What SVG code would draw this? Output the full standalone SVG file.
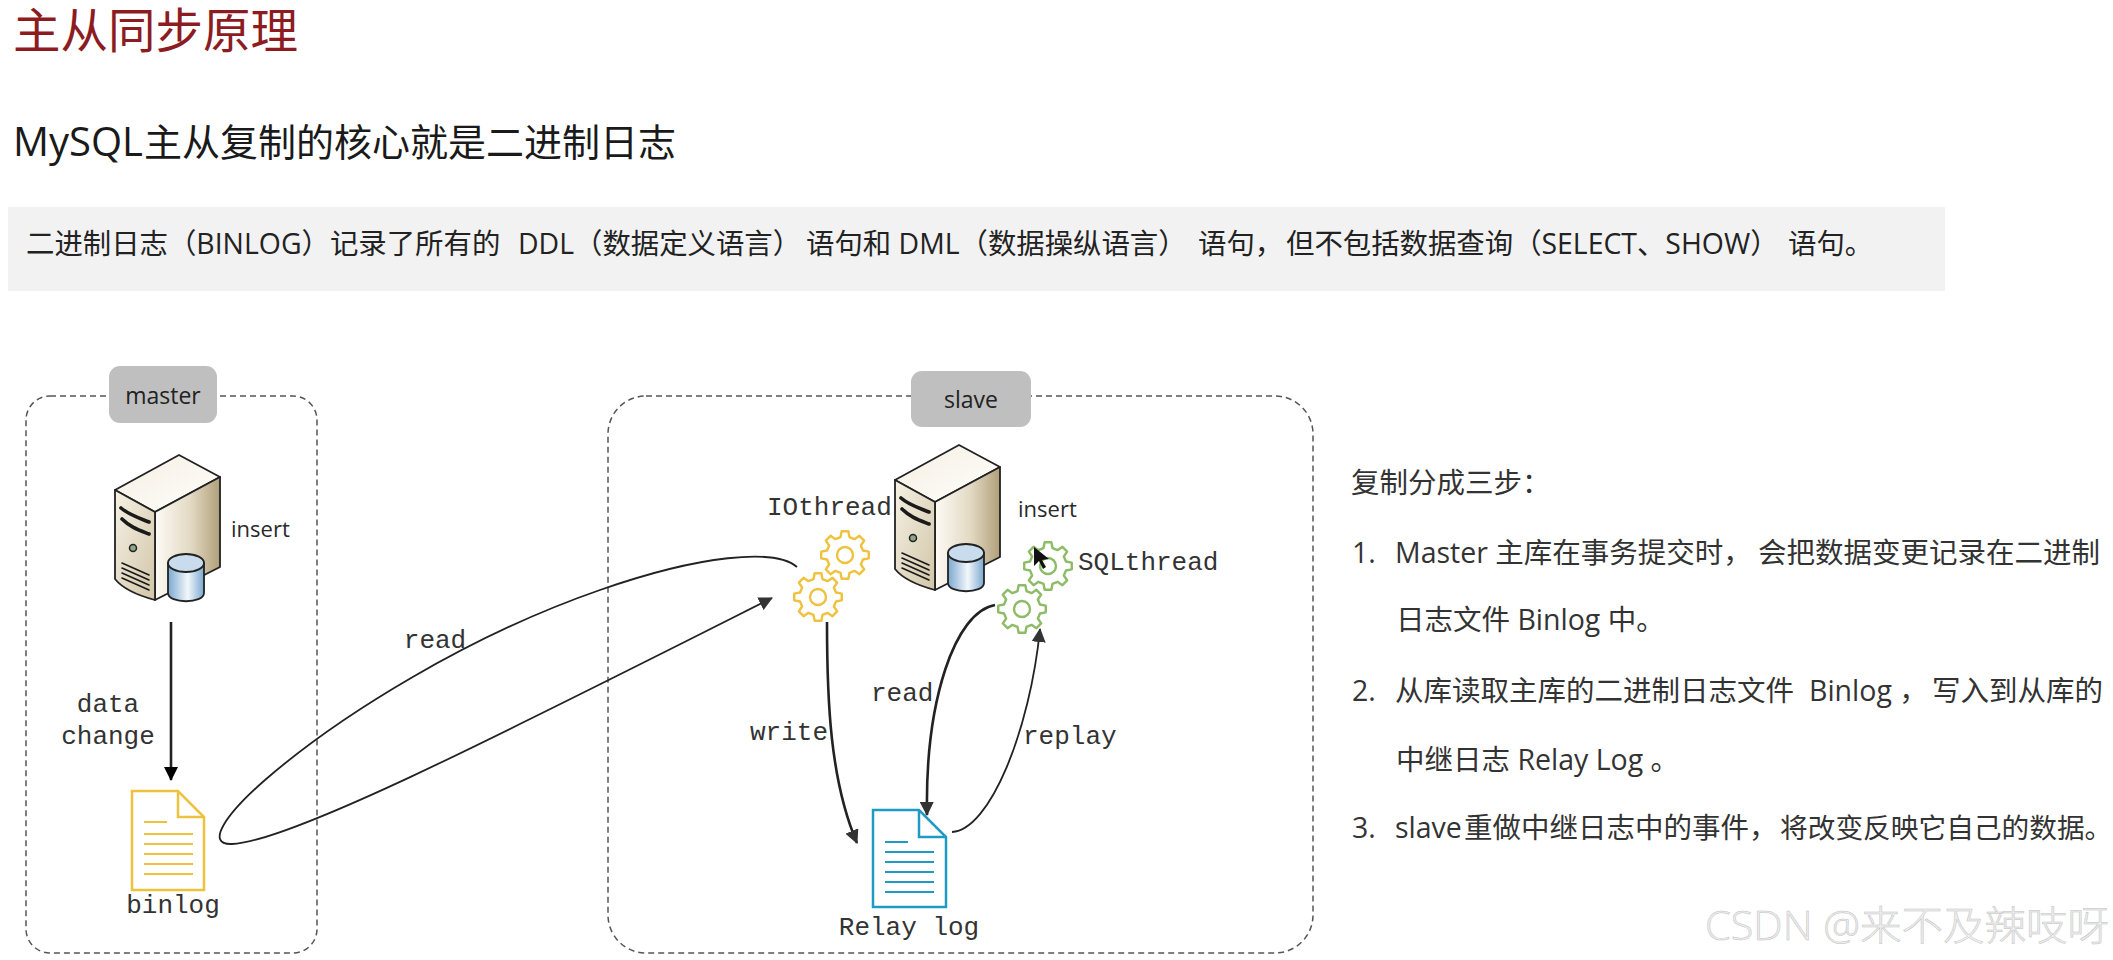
<svg xmlns="http://www.w3.org/2000/svg" width="2113" height="960" viewBox="0 0 2113 960">
<style>
.cjk{font-family:"Open Sans","Noto Sans CJK SC",sans-serif}
.mono{font-family:"Liberation Mono",monospace;font-size:26px;fill:#333}
.sans{font-family:"Open Sans","Noto Sans CJK SC",sans-serif;font-size:22px;fill:#2a2a2a}
.chipt{font-size:23px;fill:#222}
.body{font-size:28.5px;fill:#333}
.box{fill:none;stroke:#555;stroke-width:1.5;stroke-dasharray:6 4}
.chip{fill:#bfbfbf}
.conn{fill:none;stroke:#222;stroke-width:1.8}
.thick{stroke-width:2.6}
.gearY{fill:#fff;stroke:#efc23e;stroke-width:2.4;stroke-linejoin:round}
.gearG{fill:#fff;stroke:#8dbb66;stroke-width:2.4;stroke-linejoin:round}
.holeY{fill:none;stroke:#efc23e;stroke-width:2.4}
.holeG{fill:none;stroke:#8dbb66;stroke-width:2.4}
.ol{stroke:#222;stroke-width:1.8;stroke-linejoin:round}
.slot{fill:none;stroke:#1a1a1a;stroke-linecap:round}
</style>
<defs>
<marker id="ah" viewBox="0 0 14 14" refX="13" refY="7" markerWidth="14" markerHeight="14" markerUnits="userSpaceOnUse" orient="auto"><path d="M0 0L14 7L0 14Z" fill="#333"/></marker>
<marker id="ahb" viewBox="0 0 14 14" refX="13" refY="7" markerWidth="14" markerHeight="14" markerUnits="userSpaceOnUse" orient="auto"><path d="M0 0L14 7L0 14Z" fill="#000"/></marker>
<linearGradient id="top" x1="0" y1="0" x2="1" y2="1"><stop offset="0" stop-color="#f4efe4"/><stop offset="1" stop-color="#fffefb"/></linearGradient>
<linearGradient id="front" x1="0" y1="0" x2="1" y2="1"><stop offset="0" stop-color="#f6f1e5"/><stop offset="1" stop-color="#d2c6a8"/></linearGradient>
<linearGradient id="side" x1="0" y1="0" x2="1" y2="0"><stop offset="0" stop-color="#fdfbf6"/><stop offset=".55" stop-color="#e3d9c3"/><stop offset="1" stop-color="#b0a07a"/></linearGradient>
<linearGradient id="cyl" x1="0" y1="0" x2="1" y2="0"><stop offset="0" stop-color="#7ba8d0"/><stop offset=".55" stop-color="#f2f7fb"/><stop offset="1" stop-color="#7ba8d0"/></linearGradient>
<symbol id="server" overflow="visible">
<path class="ol" fill="url(#top)" d="M0 35L64 0L105 22L40 57Z"/>
<path class="ol" fill="url(#side)" d="M40 57L105 22V112L40 145Z"/>
<path class="ol" fill="url(#front)" d="M0 35L40 57V145C25 141 8 134 0 124Z"/>
<path class="slot" stroke-width="3.6" d="M6 53C14 60 24 63 34 67M7 64C15 72 24 75 34 79"/>
<circle cx="18" cy="93" r="3.5" fill="#8ea68c" stroke="#222" stroke-width="1.5"/>
<path class="slot" stroke-width="1.6" d="M7 108L34 120M7 113L34 125M7 118L34 130M7 123L34 135"/>
<path class="ol" fill="url(#cyl)" d="M53 108V138C53 149 89 149 89 138V108Z"/>
<ellipse class="ol" cx="71" cy="108" rx="18" ry="9" fill="#c9dcee"/>
</symbol>
<path id="gear" d="M17.95 -4.48L23.77 -3.34L23.77 3.34L17.95 4.48L15.86 9.53L19.17 14.44L14.44 19.17L9.53 15.86L4.48 17.95L3.34 23.77L-3.34 23.77L-4.48 17.95L-9.53 15.86L-14.44 19.17L-19.17 14.44L-15.86 9.53L-17.95 4.48L-23.77 3.34L-23.77 -3.34L-17.95 -4.48L-15.86 -9.53L-19.17 -14.44L-14.44 -19.17L-9.53 -15.86L-4.48 -17.95L-3.34 -23.77L3.34 -23.77L4.48 -17.95L9.53 -15.86L14.44 -19.17L19.17 -14.44L15.86 -9.53Z"/>
</defs>
<rect width="2113" height="960" fill="#fff"/>

<g id="heading">
<text x="13" y="48" font-family="Liberation Sans,Noto Sans CJK SC,sans-serif" font-size="47.5" fill="#8c1c1f">主从同步原理</text>
<text class="cjk" x="13" y="156" font-size="38" fill="#1a1a1a"><tspan font-size="40">MySQL</tspan><tspan x="144">主从复制的核心就是二进制日志</tspan></text>
</g>
<g id="note">
<rect x="8" y="207" width="1937" height="84" fill="#f2f2f2"/>
<text class="cjk" x="26" y="254" font-size="28.4" fill="#222">二进制日志（BINLOG）记录了所有的 <tspan x="518">DDL（数据定义语言）</tspan><tspan x="806">语句和 DML（数据操纵语言）</tspan><tspan x="1198">语句，</tspan><tspan x="1286">但不包括数据查询（SELECT、SHOW）</tspan><tspan x="1788">语句。</tspan></text>
</g>

<g id="master">
<rect class="box" x="26" y="396" width="291" height="557" rx="24"/>
<rect class="chip" x="109" y="366" width="108" height="57" rx="11"/>
<text class="sans chipt" x="163" y="404" text-anchor="middle">master</text>
<use href="#server" x="115" y="455"/>
<text class="sans" x="231" y="537">insert</text>
</g>
<g id="binlog">
<path d="M132 791H178L204 817V890H132Z" fill="#fff" stroke="#eec23f" stroke-width="2.5"/>
<path d="M178 791V817H204" fill="none" stroke="#eec23f" stroke-width="2.5"/>
<path d="M144 822H167M144 834H193M144 844H193M144 854H193M144 864H193M144 874H193" stroke="#eec23f" stroke-width="2"/>
<text class="mono" x="173" y="913" text-anchor="middle">binlog</text>
</g>
<g id="slave">
<rect class="box" x="608" y="396" width="705" height="557" rx="38"/>
<rect class="chip" x="911" y="371" width="120" height="56" rx="11"/>
<text class="sans chipt" x="971" y="408" text-anchor="middle">slave</text>
<use href="#server" x="895" y="445"/>
<text class="sans" x="1018" y="517">insert</text>
</g>
<g id="iothread">
<text class="mono" x="767" y="515">IOthread</text>
<use href="#gear" x="845" y="555" class="gearY"/><circle class="holeY" cx="845" cy="555" r="8"/>
<use href="#gear" x="818" y="597" class="gearY"/><circle class="holeY" cx="818" cy="597" r="8"/>
</g>
<g id="sqlthread">
<use href="#gear" x="1048" y="566" class="gearG"/><circle class="holeG" cx="1048" cy="566" r="8"/>
<use href="#gear" x="1022" y="609" class="gearG"/><circle class="holeG" cx="1022" cy="609" r="8"/>
<text class="mono" x="1078" y="570">SQLthread</text>
</g>
<g id="relaylog">
<path d="M873 810H919L946 837V907H873Z" fill="#fff" stroke="#1f9ac4" stroke-width="2.5"/>
<path d="M919 810V837H946" fill="none" stroke="#1f9ac4" stroke-width="2.5"/>
<path d="M885 842H908M885 852H934M885 862H934M885 872H934M885 882H934M885 892H934" stroke="#1f9ac4" stroke-width="2"/>
<text class="mono" x="909" y="935" text-anchor="middle">Relay log</text>
</g>
<g id="connectors">
<path class="conn thick" d="M171 622V780" marker-end="url(#ahb)"/>
<path class="conn" d="M797 567C775 548 700 555 600 590C470 635 340 715 265 780C225 815 205 845 232 844C290 842 500 735 772 598" marker-end="url(#ah)"/>
<path class="conn thick" d="M827 622C827 700 830 780 857 843" marker-end="url(#ah)"/>
<path class="conn thick" d="M995 605C955 612 925 700 927 815" marker-end="url(#ah)"/>
<path class="conn" d="M952 832C990 830 1030 730 1040 629" marker-end="url(#ah)"/>
</g>
<g id="labels">
<text class="mono" x="435" y="648" text-anchor="middle">read</text>
<text class="mono" x="108" y="712" text-anchor="middle">data</text>
<text class="mono" x="108" y="744" text-anchor="middle">change</text>
<text class="mono" x="750" y="740">write</text>
<text class="mono" x="871" y="701">read</text>
<text class="mono" x="1023" y="744">replay</text>
</g>
<path id="cursor" d="M1034 547L1034 566L1039 561L1043 569L1046 567L1042 560L1049 559Z" fill="#111"/>
<g id="steps" class="cjk body">
<text x="1351" y="493">复制分成三步：</text>
<text x="1352" y="563">1.</text>
<text x="1395" y="563">Master 主库在事务提交时，<tspan x="1758">会把数据变更记录在二进制</tspan></text>
<text x="1396" y="630">日志文件 Binlog 中。</text>
<text x="1352" y="701">2.</text>
<text x="1395" y="701">从库读取主库的二进制日志文件 <tspan x="1809">Binlog ，</tspan><tspan x="1932">写入到从库的</tspan></text>
<text x="1396" y="770">中继日志 Relay Log 。</text>
<text x="1352" y="838">3.</text>
<text x="1395" y="838">slave<tspan x="1464">重做中继日志中的事件，</tspan><tspan x="1780" font-size="27.7">将改变反映它自己的数据。</tspan></text>
</g>
<text id="watermark" font-family="Open Sans,Noto Sans CJK SC,sans-serif" font-weight="300" x="1705" y="940" font-size="40" fill="#eeeeee" stroke="#c2c2c2" stroke-width=".5" textLength="404" lengthAdjust="spacingAndGlyphs">CSDN @来不及辣吱呀</text>
</svg>
